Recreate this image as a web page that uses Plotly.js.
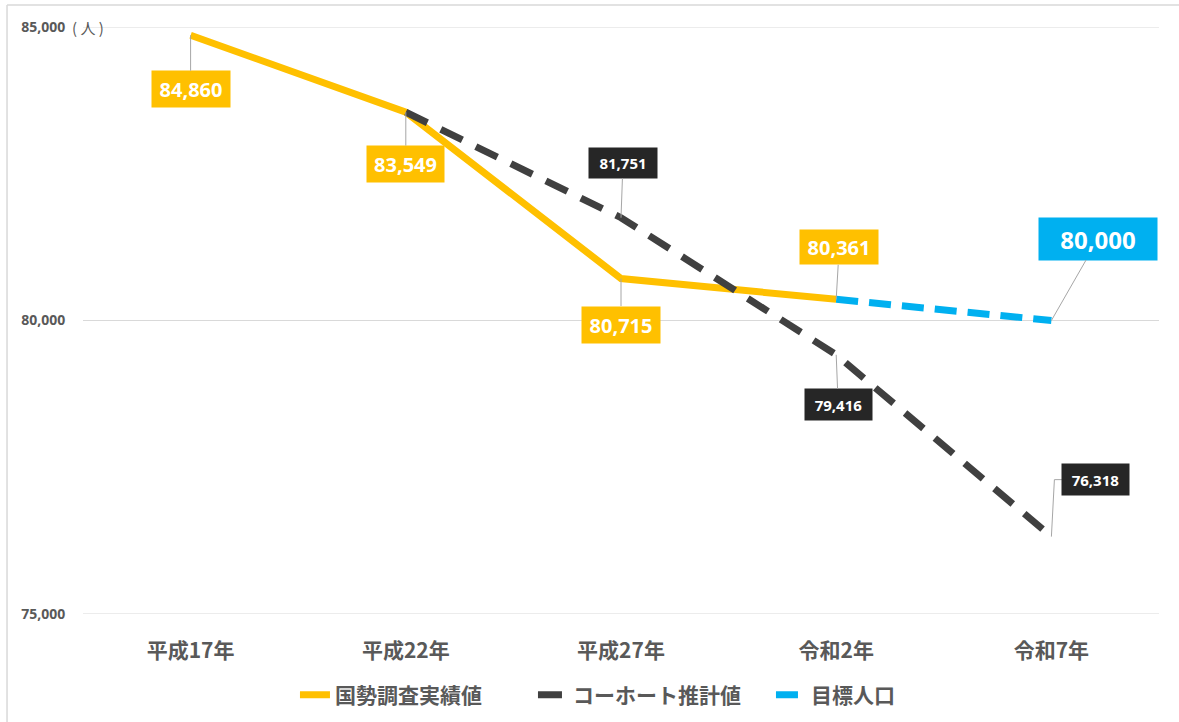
<!DOCTYPE html>
<html>
<head>
<meta charset="utf-8">
<script src="https://cdn.plot.ly/plotly-3.0.1.min.js"></script>
<style>html,body{margin:0;padding:0;background:#fff;}#chart{width:1179px;height:722px;}</style>
</head>
<body>
<div id="chart"></div>
<script>
const categories = ["平成17年", "平成22年", "平成27年", "令和2年", "令和7年"];
const actualName = "国勢調査実績値";
const actualValues = [84860, 83549, 80715, 80361, null];
const cohortName = "コーホート推計値";
const cohortValues = [null, 83549, 81751, 79416, 76318];
const targetName = "目標人口";
const targetValues = [null, null, null, 80361, 80000];
const yTickVals = [75000, 80000, 85000];
const yTickText = ["75,000", "80,000", "85,000"];
const yUnit = "(\u00a0人\u00a0)";

const FONT = "'Noto Sans CJK JP', 'Noto Sans', sans-serif";
const NUMFONT = "'Noto Sans', 'Noto Sans CJK JP', sans-serif";
const GRAY = "#595959";
const YELLOW = "#FFC000", DARK = "#404040", BLUE = "#00B0F0", DARKBOX = "#262626";

function fmt(v){ return v.toLocaleString("en-US"); }

const traces = [
  {x: categories, y: actualValues, name: actualName, type: "scatter", mode: "lines",
   line: {color: YELLOW, width: 7}, connectgaps: false},
  {x: categories, y: cohortValues, name: cohortName, type: "scatter", mode: "lines",
   line: {color: DARK, width: 7, dash: "24px,15px"}, connectgaps: false},
  {x: categories, y: targetValues, name: targetName, type: "scatter", mode: "lines",
   line: {color: BLUE, width: 7, dash: "22px,11px"}, connectgaps: false}
];

function label(xi, val, bg, ax, ay, w, h, size, arrow){
  return {x: categories[xi], y: val, xref: "x", yref: "y", text: "<b>" + fmt(val) + "</b>",
    showarrow: true, arrowhead: 0, arrowwidth: 1, arrowcolor: arrow === false ? "rgba(0,0,0,0)" : "#A6A6A6",
    standoff: 0, startstandoff: 0, ax: ax, ay: ay, axref: "pixel", ayref: "pixel",
    bgcolor: bg, width: w, height: h, align: "center", valign: "middle",
    font: {family: NUMFONT, size: size, color: "#FFFFFF"}};
}

const annotations = [
  label(0, actualValues[0], YELLOW, 0, 54, 76, 34, 20),
  label(1, actualValues[1], YELLOW, 0, 52, 75, 34, 20),
  label(2, cohortValues[2], DARKBOX, 2, -55, 66, 28, 15),
  label(2, actualValues[2], YELLOW, 0, 46, 76, 34, 20),
  label(3, actualValues[3], YELLOW, 3, -52, 76, 32, 20),
  label(4, targetValues[4], BLUE, 47, -82, 116, 40, 24),
  label(3, cohortValues[3], DARKBOX, 2, 50, 65, 29, 15),
  label(4, cohortValues[4], DARKBOX, 44, -57, 65, 29, 15, false),
  {xref: "paper", yref: "y", x: -0.0115, y: 85000, xanchor: "left", yanchor: "middle",
   text: yUnit, showarrow: false, borderpad: 0, font: {family: FONT, size: 15, color: GRAY}}
];

const gridShapes = yTickVals.map(v => ({type: "line", layer: "below", xref: "paper", yref: "y",
  x0: 0, x1: 1, y0: v, y1: v, line: {color: "#D9D9D9", width: 1}}));

const shapes = gridShapes.concat([
  {type: "line", xref: "paper", yref: "paper", x0: -0.0706, x1: 1.02, y0: 1.0375, y1: 1.0375,
   line: {color: "#D9D9D9", width: 1.5}},
  {type: "line", xref: "paper", yref: "paper", x0: -0.0706, x1: -0.0706, y0: 1.0375, y1: -0.19,
   line: {color: "#D9D9D9", width: 1.5}},
  {type: "line", xref: "x", yref: "y", xsizemode: "pixel", ysizemode: "pixel",
   xanchor: categories[4], yanchor: cohortValues[4], x0: 0, x1: 3, y0: 0, y1: 57,
   line: {color: "#A6A6A6", width: 1}},
  {type: "line", xref: "x", yref: "y", xsizemode: "pixel", ysizemode: "pixel",
   xanchor: categories[4], yanchor: cohortValues[4], x0: 3, x1: 11, y0: 57, y1: 57,
   line: {color: "#A6A6A6", width: 1}}
]);

const layout = {
  width: 1179, height: 722,
  margin: {l: 83, r: 20, t: 27, b: 108, autoexpand: false},
  paper_bgcolor: "#FFFFFF", plot_bgcolor: "#FFFFFF",
  font: {family: FONT, color: GRAY},
  showlegend: true,
  legend: {orientation: "h", x: 0.197, xanchor: "left", y: -0.138, yanchor: "middle",
    font: {family: FONT, size: 21, color: GRAY, weight: "bold"}, entrywidth: 193, tracegroupgap: 0},
  xaxis: {type: "category", range: [-0.5, 4.5], showgrid: false, zeroline: false, showline: false,
    ticks: "outside", ticklen: 18, tickcolor: "rgba(0,0,0,0)",
    tickfont: {family: FONT, size: 21, color: GRAY, weight: "bold"}, fixedrange: true},
  yaxis: {range: [75000, 85000], tickvals: yTickVals, ticktext: yTickText,
    showgrid: false, zeroline: false, showline: false,
    ticks: "outside", ticklen: 14, tickcolor: "rgba(0,0,0,0)",
    tickfont: {family: NUMFONT, size: 14, color: GRAY, weight: "bold"}, fixedrange: true},
  annotations: annotations,
  shapes: shapes,
  hovermode: false
};

Plotly.newPlot("chart", traces, layout, {displayModeBar: false, staticPlot: true});
</script>
</body>
</html>
